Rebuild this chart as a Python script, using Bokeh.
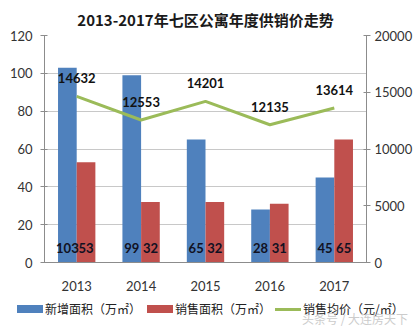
from bokeh.plotting import figure
from bokeh.layouts import column
from bokeh.models import (ColumnDataSource, FactorRange, Range1d, LinearAxis, FixedTicker, Div)
from bokeh.transform import dodge
from bokeh.core.properties import value
from bokeh.embed import file_html
from bokeh.resources import INLINE

years = ["2013", "2014", "2015", "2016", "2017"]
new_area = [103, 99, 65, 28, 45]
sold_area = [53, 32, 32, 31, 65]
avg_price = [14632, 12553, 14201, 12135, 13614]
left_ticks = [0, 20, 40, 60, 80, 100, 120]
right_ticks = [0, 5000, 10000, 15000, 20000]
series_names = ["新增面积（万㎡）", "销售面积（万㎡）", "销售均价（元/㎡）"]

BLUE = "#4F81BD"
RED = "#C0504D"
GREEN = "#9BBB59"
CJK = "Noto Sans CJK SC"
NUM = "Lato"

src = ColumnDataSource(dict(
    year=years, new=new_area, sold=sold_area, price=avg_price,
    new_s=[str(v) for v in new_area], sold_s=[str(v) for v in sold_area],
    price_s=[str(v) for v in avg_price],
))

p = figure(width=419, height=297, x_range=FactorRange(factors=years, range_padding=0),
           y_range=Range1d(0, 120), output_backend="svg", toolbar_location=None,
           min_border_left=44, min_border_right=53, min_border_top=34, min_border_bottom=35,
           title="2013-2017年七区公寓年度供销价走势")
p.outline_line_color = None
p.background_fill_color = "white"
p.border_fill_color = "white"
p.title.align = "center"
p.title.text_font = CJK
p.title.text_font_size = "15px"
p.title.text_font_style = "bold"
p.title.text_color = "#1a1a1a"
p.title.standoff = 12

p.extra_y_ranges = {"price": Range1d(0, 20000)}

p.xgrid.grid_line_color = None
p.ygrid.grid_line_color = "#C8C8C8"
p.ygrid.ticker = FixedTicker(ticks=left_ticks)

p.yaxis.ticker = FixedTicker(ticks=left_ticks)
right = LinearAxis(y_range_name="price", ticker=FixedTicker(ticks=right_ticks))
p.add_layout(right, "right")

for ax in [p.yaxis[0], right]:
    ax.axis_line_color = "#8C8C8C"
    ax.major_tick_line_color = "#8C8C8C"
    ax.major_tick_out = 4
    ax.major_tick_in = 3
    ax.minor_tick_line_color = None
    ax.major_label_text_font = NUM
    ax.major_label_text_font_size = "13px"
    ax.major_label_text_color = "#333333"
p.yaxis[0].major_label_standoff = 8
right.major_label_standoff = 4

xa = p.xaxis[0]
xa.axis_line_color = "#8C8C8C"
xa.major_tick_line_color = None
xa.major_label_text_font = NUM
xa.major_label_text_font_size = "13px"
xa.major_label_text_color = "#333333"
xa.major_label_standoff = 12

w = 0.29
b1 = p.vbar(x=dodge("year", -w / 2, range=p.x_range), top="new", width=w, source=src,
            fill_color=BLUE, line_color=None)
b2 = p.vbar(x=dodge("year", w / 2, range=p.x_range), top="sold", width=w, source=src,
            fill_color=RED, line_color=None)
ln = p.line(x="year", y="price", source=src, y_range_name="price", line_color=GREEN, line_width=3)

p.text(x=dodge("year", -w / 2, range=p.x_range), y=7.5, text="new_s", source=src,
       text_font=value(NUM), text_font_style="bold", text_font_size="13px",
       text_align="center", text_baseline="middle", text_color="#111122")
p.text(x=dodge("year", w / 2, range=p.x_range), y=7.5, text="sold_s", source=src,
       text_font=value(NUM), text_font_style="bold", text_font_size="13px",
       text_align="center", text_baseline="middle", text_color="#111122")
p.text(x="year", y="price", text="price_s", source=src, y_range_name="price", y_offset=-18,
       text_font=value(NUM), text_font_style="bold", text_font_size="13px",
       text_align="center", text_baseline="middle", text_color="#111111")

# legend strip (HTML) below the chart
swatches = [
    (BLUE, 17, 8, series_names[0]),
    (RED, 147, 8, series_names[1]),
    (GREEN, 275, 3, series_names[2]),
]
parts = []
for color, left, h, label in swatches:
    top = 12 - h / 2
    parts.append(
        f'<span style="position:absolute;left:{left}px;top:{top}px;width:26px;height:{h}px;'
        f'background:{color};"></span>'
        f'<span style="position:absolute;left:{left + 28}px;top:3px;line-height:18px;'
        f'font-family:\'{CJK}\';font-size:12px;color:#222222;white-space:nowrap;">{label}</span>'
    )
parts.append(
    f'<span style="position:absolute;left:302px;top:14px;line-height:16px;font-family:\'{CJK}\';'
    f'font-size:12px;color:#bbbbbb;opacity:0.75;white-space:nowrap;">头条号 / 大连房天下</span>'
)
div = Div(text='<div style="position:relative;width:419px;height:30px;background:white;">'
          + "".join(parts) + "</div>", width=419, height=30, margin=0)

p.margin = 0
layout = column(p, div, spacing=0)
open("out.html", "w").write(file_html(layout, INLINE))
